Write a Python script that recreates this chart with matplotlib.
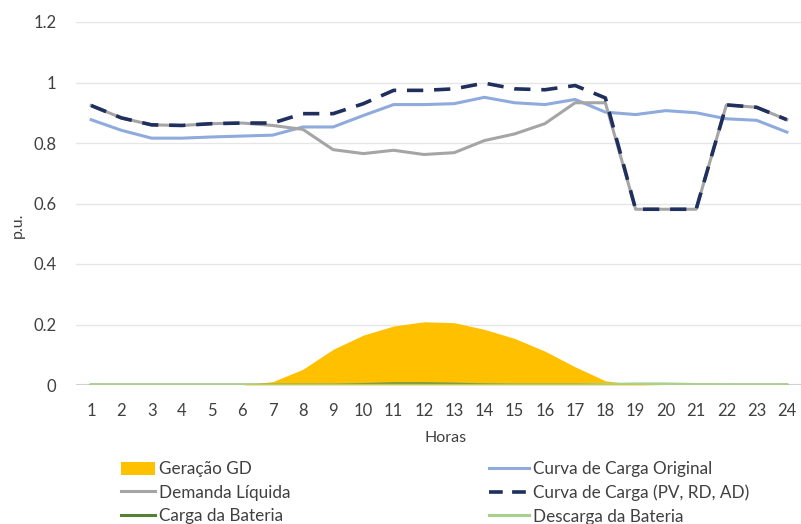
import matplotlib
matplotlib.use("Agg")
import matplotlib.pyplot as plt
from matplotlib.patches import Patch
from matplotlib.lines import Line2D

plt.rcParams['font.family'] = ['Lato', 'DejaVu Sans']

hours = list(range(1, 25))
geracao_gd = [0, 0, 0, 0, 0, 0, 0.011, 0.052, 0.118, 0.165, 0.195, 0.209,
              0.206, 0.184, 0.154, 0.112, 0.060, 0.014, 0.002, 0, 0, 0, 0, 0]
curva_original = [0.877, 0.842, 0.816, 0.816, 0.820, 0.823, 0.826, 0.853, 0.853, 0.891, 0.927, 0.927,
                  0.930, 0.951, 0.933, 0.927, 0.944, 0.902, 0.894, 0.907, 0.900, 0.880, 0.875, 0.836]
demanda_liquida = [0.924, 0.883, 0.860, 0.858, 0.864, 0.866, 0.858, 0.845, 0.778, 0.765, 0.776, 0.762,
                   0.768, 0.808, 0.830, 0.864, 0.933, 0.933, 0.581, 0.581, 0.581, 0.926, 0.918, 0.877]
curva_pv_rd_ad = [0.924, 0.883, 0.860, 0.858, 0.864, 0.866, 0.866, 0.897, 0.897, 0.930, 0.974, 0.974,
                  0.979, 0.998, 0.979, 0.976, 0.990, 0.949, 0.581, 0.581, 0.581, 0.926, 0.918, 0.877]
carga_bateria = [0, 0, 0, 0, 0, 0, 0, 0, 0, 0.002, 0.004, 0.004,
                 0.003, 0.001, 0, 0, 0, 0, 0, 0, 0, 0, 0, 0]
descarga_bateria = [0, 0, 0, 0, 0, 0, 0, 0, 0, 0, 0, 0,
                    0, 0, 0, 0, 0, 0.002, 0.004, 0.004, 0.002, 0, 0, 0]
y_ticks = [0, 0.2, 0.4, 0.6, 0.8, 1.0, 1.2]
y_tick_labels = ["0", "0.2", "0.4", "0.6", "0.8", "1", "1.2"]

c_gd = "#FFC000"
c_orig = "#8FAADC"
c_liq = "#A5A5A5"
c_pv = "#1F2F5E"
c_carga = "#548235"
c_desc = "#A9D18E"

fig = plt.figure(figsize=(8.01, 5.24), dpi=100)
ax = fig.add_axes([76/801, 1-385/524, (802-76)/801, (385-22)/524])

ax.fill_between(hours, geracao_gd, 0, color=c_gd, lw=0, zorder=2)
ax.plot(hours, curva_original, color=c_orig, lw=2.2, zorder=3)
ax.plot(hours, demanda_liquida, color=c_liq, lw=2.2, zorder=4)
ax.plot(hours, carga_bateria, color=c_carga, lw=2.0, zorder=5)
ax.plot(hours, descarga_bateria, color=c_desc, lw=2.0, zorder=5)
ax.plot(hours, curva_pv_rd_ad, color=c_pv, lw=2.6, linestyle=(0, (4.5, 3.0)), zorder=6)

ax.set_xlim(0.5, 24.5)
ax.set_ylim(0, 1.2)
ax.set_xticks(hours)
ax.set_xticklabels([str(h) for h in hours], fontsize=12, color="#404040")
ax.set_yticks(y_ticks)
ax.set_yticklabels(y_tick_labels, fontsize=12, color="#404040")
ax.tick_params(axis='x', length=0, pad=13)
ax.tick_params(axis='y', length=0, pad=14)
for s in ax.spines.values():
    s.set_visible(False)
ax.grid(axis='y', color="#E6E6E6", lw=1, zorder=0)
ax.axhline(0, color="#D0D0D0", lw=1.5, zorder=1)
ax.set_axisbelow(True)

fig.text(446/801, 1-438/524, "Horas", ha='center', va='center', fontsize=11.5, color="#404040")
fig.text(18/801, 1-225/524, "p.u.", ha='center', va='center', rotation=90, fontsize=11.5, color="#404040")

h1 = [Patch(facecolor=c_gd, edgecolor='none'),
      Line2D([], [], color=c_liq, lw=2.2),
      Line2D([], [], color=c_carga, lw=2.2)]
l1 = ["Geração GD", "Demanda Líquida", "Carga da Bateria"]
h2 = [Line2D([], [], color=c_orig, lw=2.2),
      Line2D([], [], color=c_pv, lw=2.6, linestyle=(0, (3.8, 2.6))),
      Line2D([], [], color=c_desc, lw=2.2)]
l2 = ["Curva de Carga Original", "Curva de Carga (PV, RD, AD)", "Descarga da Bateria"]

kw = dict(frameon=False, fontsize=12.3, handleheight=0.8, handletextpad=0.2,
          labelspacing=0.44, borderpad=0, borderaxespad=0, labelcolor="#404040")
leg1 = fig.legend(h1, l1, loc='upper left', bbox_to_anchor=(121/801, 1-461/524), handlelength=2.0, **kw)
leg2 = fig.legend(h2, l2, loc='upper left', bbox_to_anchor=(489/801, 1-461/524), handlelength=2.35, **kw)

fig.savefig("out.png", dpi=100)
